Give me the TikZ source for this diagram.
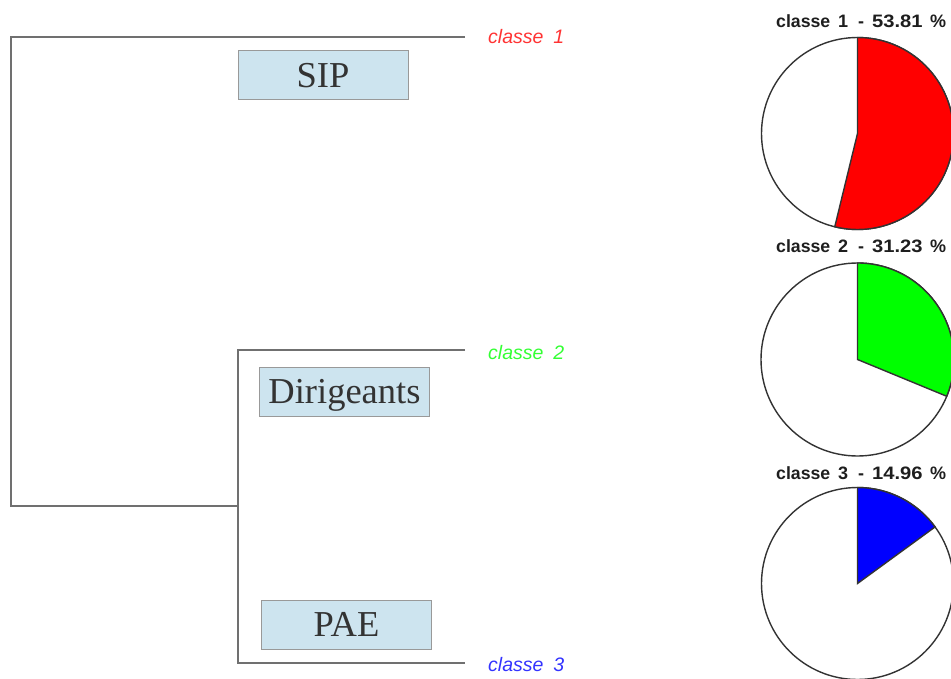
\documentclass[tikz,border=0pt]{standalone}
\usepackage{fontspec}
\usepackage{graphicx}
\setmainfont{Liberation Serif}
\newfontfamily\lsans{Liberation Sans}
\definecolor{boxfill}{HTML}{CDE4EF}
\definecolor{boxline}{HTML}{999999}
\definecolor{treeline}{HTML}{707070}
\definecolor{boxtext}{HTML}{333333}
\definecolor{lred}{HTML}{FF3333}
\definecolor{lgreen}{HTML}{33FF33}
\definecolor{lblue}{HTML}{3333FF}
\definecolor{pieline}{HTML}{333333}
\definecolor{titletext}{HTML}{1E1E1E}
\tikzset{
  tree/.style={draw=treeline, line width=2pt},
  classbox/.style={draw=boxline, fill=boxfill, line width=1pt, inner sep=0pt,
    minimum width=170pt, minimum height=49pt, text=boxtext,
    text height=24pt, text depth=0pt,
    font=\fontsize{36.5}{40}\selectfont},
  classlabel/.style={anchor=base west, inner sep=0pt, font=\lsans\itshape\fontsize{19.5}{22}\selectfont},
  pietitle/.style={anchor=base west, inner sep=0pt, text=titletext, font=\lsans\bfseries\fontsize{18}{20}\selectfont},
  pieedge/.style={draw=pieline, line width=1.4pt},
}
\begin{document}
\begin{tikzpicture}[x=1pt,y=-1pt]
\useasboundingbox (0,0) rectangle (951,679);
% dendrogram
\coordinate (a1) at (11,37);
\coordinate (a2) at (465,37);
\coordinate (r) at (11,506);
\coordinate (m) at (238,506);
\coordinate (b1) at (238,350);
\coordinate (b2) at (465,350);
\coordinate (c1) at (238,663);
\coordinate (c2) at (465,663);
\draw[tree] (a2) -- (a1) -- (r) -- (m);
\draw[tree] (b2) -- (b1) -- (c1) -- (c2);
% class labels
\node[classlabel, text=lred] (l1) at (488,44) {classe\hspace{10pt}1};
\node[classlabel, text=lgreen] (l2) at (488,359) {classe\hspace{10pt}2};
\node[classlabel, text=lblue] (l3) at (488,671) {classe\hspace{10pt}3};
% boxes
\node[classbox] (sip) at (323,75.5) {SIP};
\node[classbox] (dir) at (344.5,391.5) {Dirigeants};
\node[classbox] (pae) at (346.5,624.5) {PAE};
% pie titles (pieces)
\foreach \n/\yy/\k/\pc in {1/27.5/1/53.81, 2/252.5/2/31.23, 3/479.5/3/14.96}{
  \node[pietitle, font=\lsans\bfseries\fontsize{17.7}{20}\selectfont] (ta\n) at (776,\yy) {classe};
  \node[pietitle] (tb\n) at (838,\yy) {\k};
  \node[pietitle] (tc\n) at (858,\yy) {-};
  \node[pietitle] (td\n) at (872,\yy) {\scalebox{1.12}[1]{\pc}};
  \node[pietitle] (te\n) at (930,\yy) {\%};
}
% pie 1
\begin{scope}[shift={(857.5,133.5)}, y=1pt]
  \draw[pieedge, fill=white] (0,0) circle[radius=96pt];
  \draw[pieedge, fill=red] (0,0) -- (90:96) arc[start angle=90, end angle=-103.7, radius=96pt] -- cycle;
\end{scope}
% pie 2
\begin{scope}[shift={(857.5,359.5)}, y=1pt]
  \draw[pieedge, fill=white] (0,0) circle[radius=96.5pt];
  \draw[pieedge, fill=green] (0,0) -- (90:96.5) arc[start angle=90, end angle=-22.4, radius=96.5pt] -- cycle;
\end{scope}
% pie 3
\begin{scope}[shift={(857.5,583.5)}, y=1pt]
  \draw[pieedge, fill=white] (0,0) circle[radius=96pt];
  \draw[pieedge, fill=blue] (0,0) -- (90:96) arc[start angle=90, end angle=36.1, radius=96pt] -- cycle;
\end{scope}
\end{tikzpicture}
\end{document}
